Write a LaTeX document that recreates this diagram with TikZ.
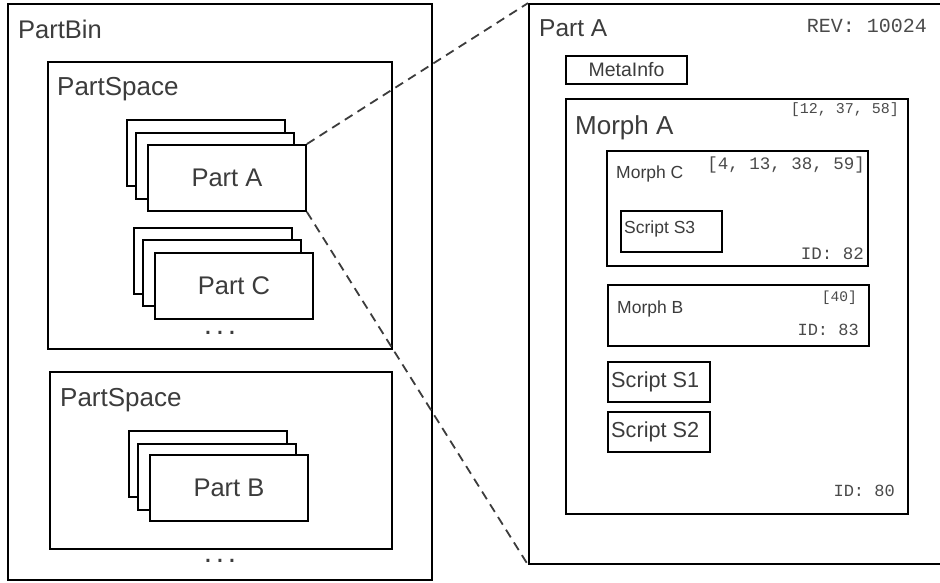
\documentclass[tikz,border=0pt]{standalone}
\usepackage{fontspec}
\setmainfont{Liberation Sans}
\setmonofont{Liberation Mono}
\newcommand\fsz[1]{\fontsize{#1}{#1}\selectfont}
\definecolor{txt}{HTML}{3c3c3c}
\definecolor{mtxt}{HTML}{4a4a4a}
\begin{document}
\begin{tikzpicture}[x=1pt,y=-1pt,
  bx/.style={draw=black, line width=1.9pt, fill=white, inner sep=0pt, rectangle},
  card/.style={bx, minimum width=158pt, minimum height=66pt, anchor=north west, text=txt, font=\fsz{25.5}},
  lbl/.style={inner sep=0pt, text=txt},
  mono/.style={inner sep=0pt, text=mtxt, font=\ttfamily},
  link/.style={draw=txt, line width=1.8pt, dash pattern=on 9pt off 6pt}]
\useasboundingbox (0,0) rectangle (940,582);
\clip (0,0) rectangle (940,582);
% left: PartBin
\node[bx, minimum width=424pt, minimum height=576pt] (bin) at (220,292) {};
\node[lbl, anchor=base west, font=\fsz{25.5}] (binl) at (18,38) {PartBin};
% PartSpace 1
\node[bx, minimum width=344pt, minimum height=287pt] (ps1) at (220,205.5) {};
\node[lbl, anchor=base west, font=\fsz{26}] (ps1l) at (57,95) {PartSpace};
\node[card] (paback) at (126,119) {};
\node[card] (pamid) at (135,132) {};
\node[card] (pa) at (147,144) {Part A};
\node[card] (pcback) at (133,227) {};
\node[card] (pcmid) at (142,239) {};
\node[card] (pc) at (154,252) {Part C};
\node[lbl, font=\fsz{30}] (dots1) at (220,333) {.\kern3.7pt.\kern3.7pt.};
% PartSpace 2
\node[bx, minimum width=342pt, minimum height=177pt] (ps2) at (221,460.5) {};
\node[lbl, anchor=base west, font=\fsz{26}] (ps2l) at (60,406) {PartSpace};
\node[card] (pbback) at (128,430) {};
\node[card] (pbmid) at (137,443) {};
\node[card] (pb) at (149,454) {Part B};
\node[lbl, font=\fsz{30}] (dots2) at (220,561) {.\kern3.7pt.\kern3.7pt.};
% right: Part A detail
\node[bx, minimum width=421pt, minimum height=560pt] (det) at (739.5,284) {};
\node[lbl, anchor=base west, font=\fsz{24.5}] (detl) at (539,36) {Part A};
\node[mono, anchor=base east, font=\ttfamily\fsz{20}] (rev) at (927,32) {REV: 10024};
\node[bx, minimum width=121pt, minimum height=28pt, text=txt, font=\fsz{19.5}] (meta) at (626.5,70) {MetaInfo};
% Morph A
\node[bx, minimum width=342pt, minimum height=415pt] (ma) at (737,306.5) {};
\node[lbl, anchor=base west, font=\fsz{26}] (mal) at (575,134) {Morph A};
\node[mono, anchor=base east, font=\ttfamily\fsz{15}] (maidx) at (899,113) {[12, 37, 58]};
\node[mono, anchor=base east, font=\ttfamily\fsz{17}] (maid) at (895,496) {ID: 80};
% Morph C
\node[bx, minimum width=261pt, minimum height=115pt] (mc) at (737.5,208.5) {};
\node[lbl, anchor=base west, font=\fsz{17.5}] (mcl) at (616,178) {Morph C};
\node[mono, anchor=base east, font=\ttfamily\fsz{17.5}] (mcidx) at (865,169) {[4, 13, 38, 59]};
\node[mono, anchor=base east, font=\ttfamily\fsz{17.5}] (mcid) at (864,259) {ID: 82};
\node[bx, minimum width=101pt, minimum height=41pt] (s3) at (671.5,231.5) {};
\node[lbl, anchor=base west, font=\fsz{17.5}] (s3l) at (624,233) {Script S3};
% Morph B
\node[bx, minimum width=261pt, minimum height=61pt] (mb) at (738.5,315.5) {};
\node[lbl, anchor=base west, font=\fsz{17.5}] (mbl) at (617,313) {Morph B};
\node[mono, anchor=base east, font=\ttfamily\fsz{14.6}] (mbidx) at (857,301) {[40]};
\node[mono, anchor=base east, font=\ttfamily\fsz{17}] (mbid) at (859,335) {ID: 83};
% Scripts
\node[bx, minimum width=102pt, minimum height=40pt] (s1) at (659,382) {};
\node[lbl, anchor=base west, font=\fsz{21.7}] (s1l) at (611,387) {Script S1};
\node[bx, minimum width=102pt, minimum height=40pt] (s2) at (659,432) {};
\node[lbl, anchor=base west, font=\fsz{21.7}] (s2l) at (611,437) {Script S2};
% zoom connectors
\draw[link] (pa.north east) -- (det.north west);
\draw[link] (pa.south east) -- (det.south west);
\end{tikzpicture}
\end{document}
